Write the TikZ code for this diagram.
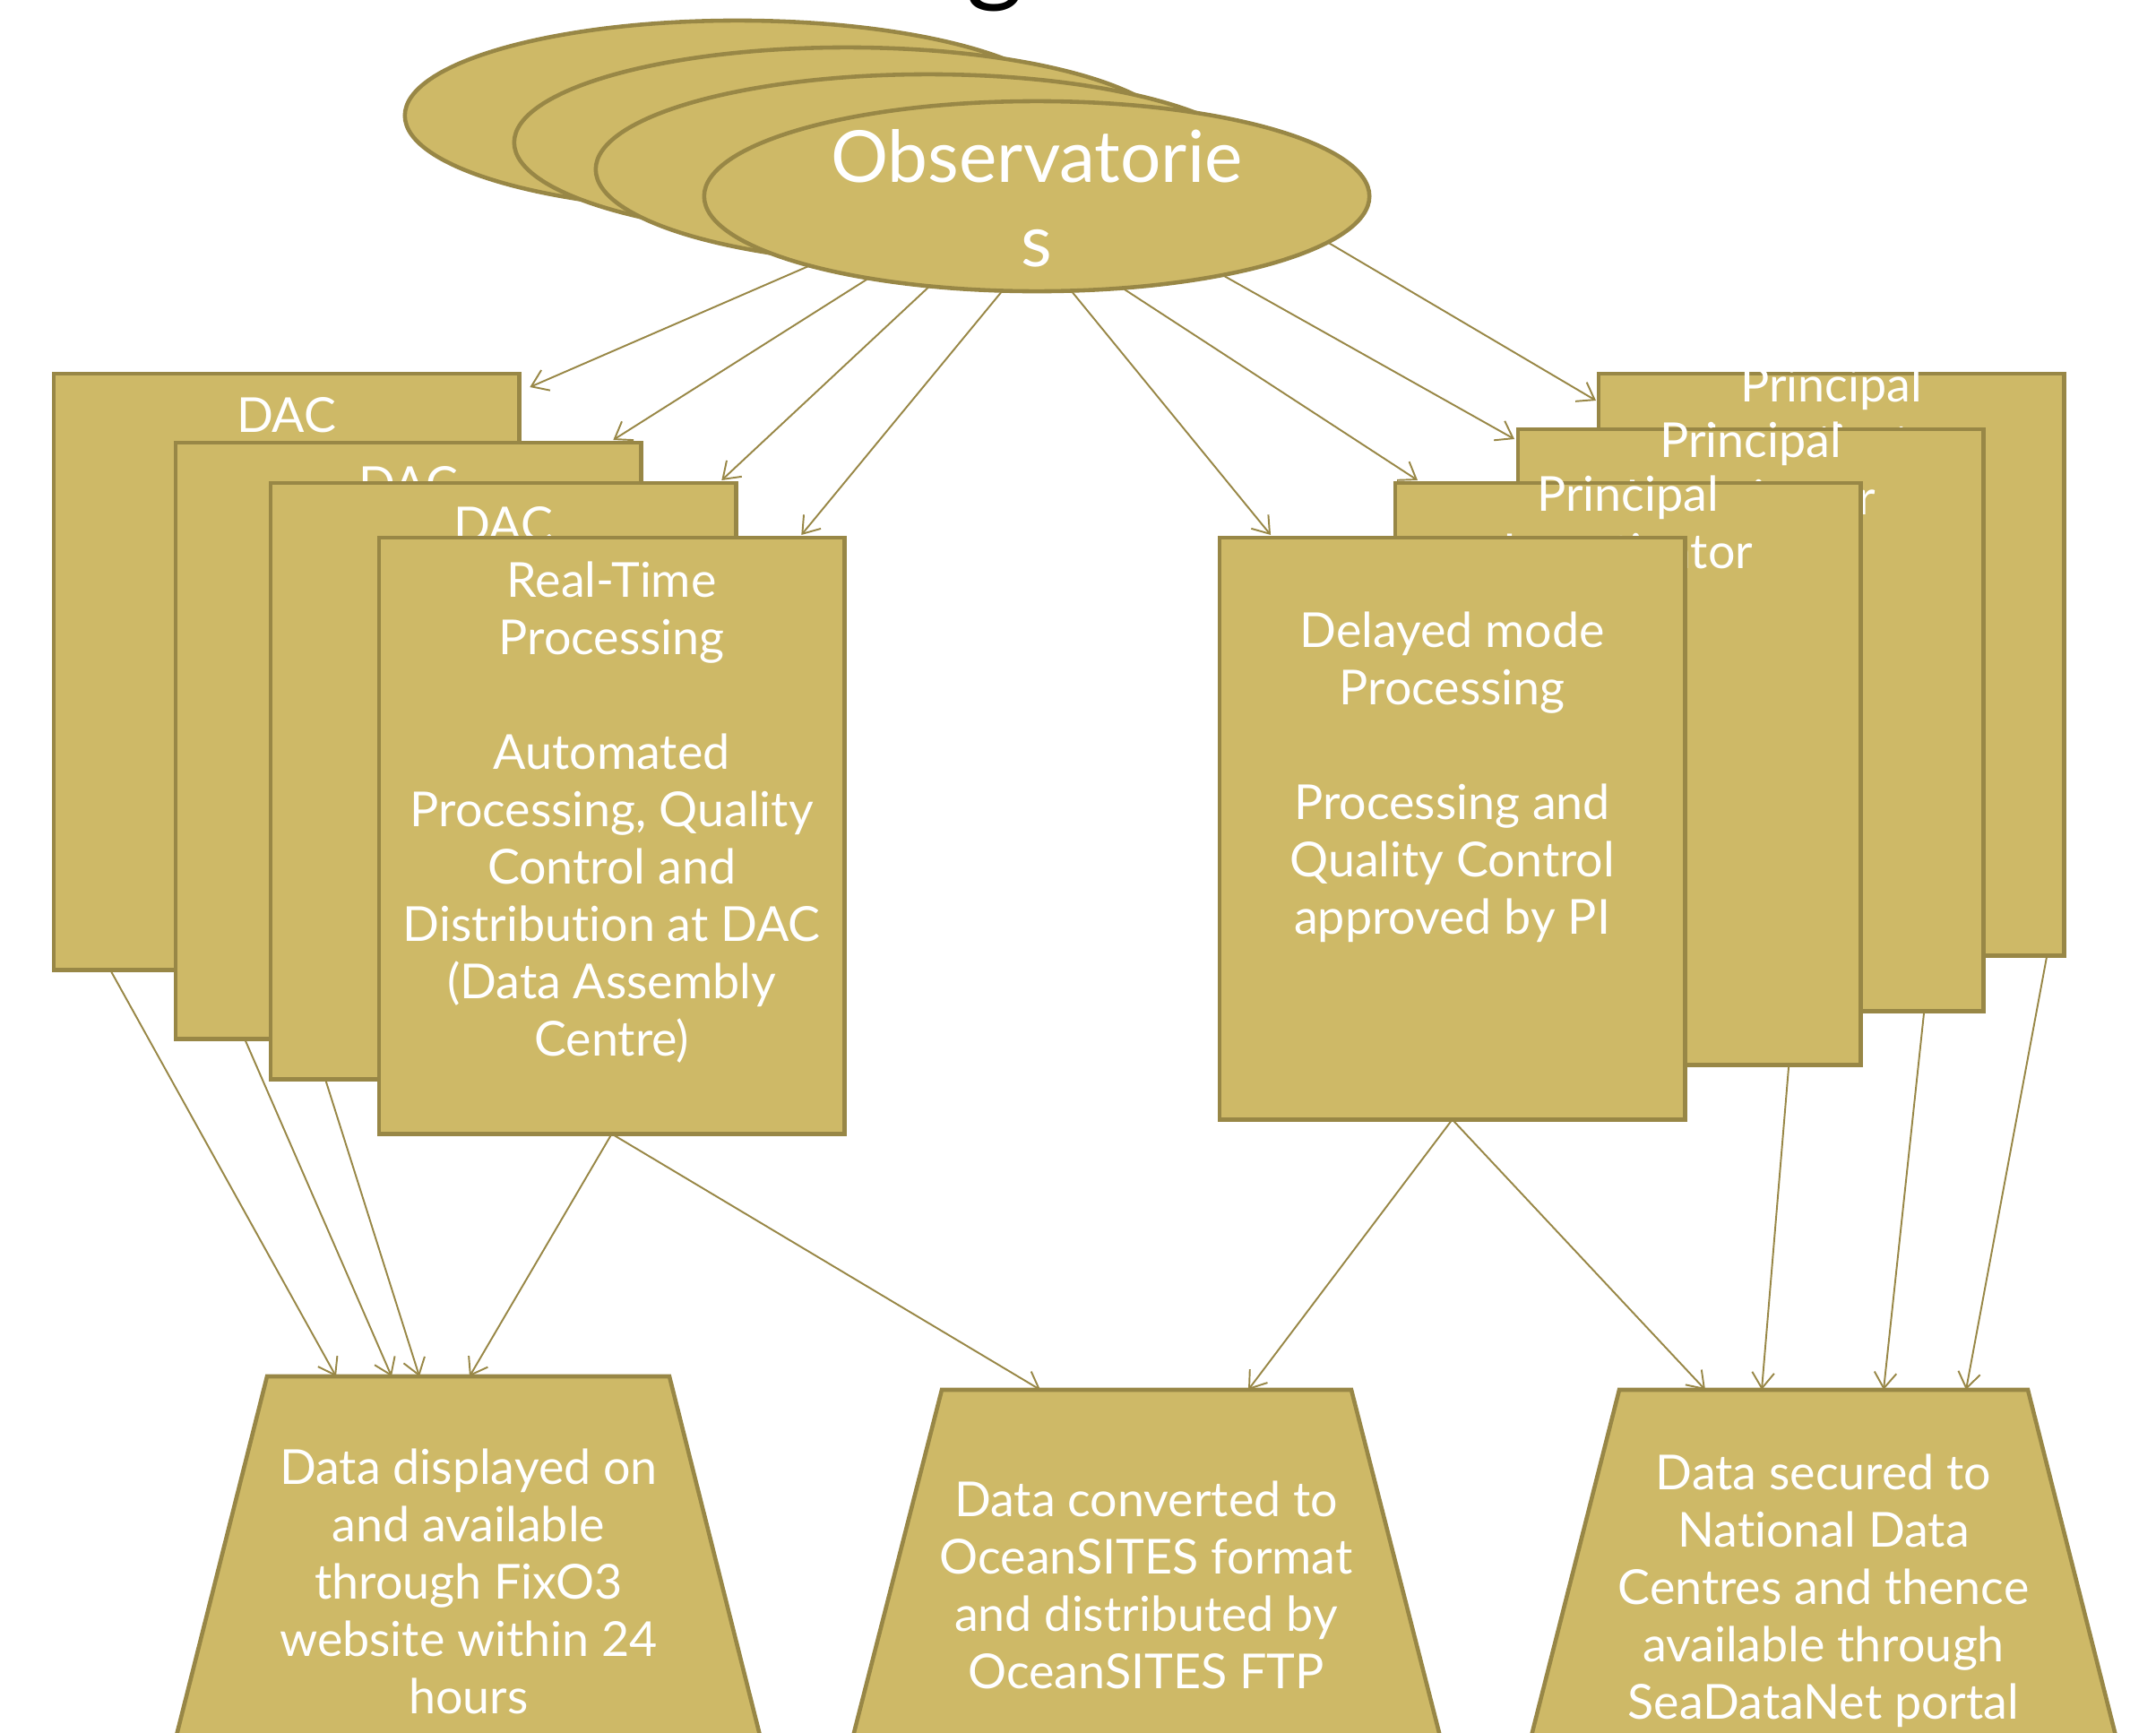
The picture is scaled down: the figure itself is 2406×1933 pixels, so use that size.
\documentclass[tikz,border=0pt]{standalone}
\usepackage{fontspec}
\setmainfont{Lato}[Ligatures={NoCommon}]
\usetikzlibrary{arrows.meta,shapes.geometric}
\definecolor{gfill}{RGB}{206,185,103}
\definecolor{gline}{RGB}{152,135,70}
\begin{document}
\begin{tikzpicture}[x=0.01cm,y=-0.01cm,
  box/.style={draw=gline, fill=gfill, line width=1.3pt, minimum width=5.19cm, inner sep=0pt, outer sep=0pt, anchor=north west},
  dacbox/.style={box, minimum height=6.65cm},
  pibox/.style={box, minimum height=6.49cm},
  obsell/.style={ellipse, draw=gline, fill=gfill, line width=1.3pt, minimum width=7.42cm, minimum height=2.12cm, inner sep=0pt, outer sep=0pt},
  txt/.style={text=white, font=\fontsize{15.3}{18.2}\selectfont, align=center, inner sep=0pt, anchor=north},
  arr/.style={draw=gline, line width=0.55pt, -{Straight Barb[length=5pt,width=7pt]}},
  trap/.style={draw=gline, fill=gfill, line width=1.3pt, line join=miter}
]
\useasboundingbox (0,0) rectangle (2406,1933);
\clip (0,0) rectangle (2406,1933);

% title fragment
\node[font=\fontsize{35}{35}\selectfont, text=black, anchor=base, inner sep=0pt] (title) at (1110,-10) {g};

% observatories
\node[obsell] (e1) at (823,129) {};
\node[obsell] (e2) at (945,159) {};
\node[obsell] (e3) at (1036,189) {};
\node[obsell] (obs) at (1157,219) {};
\node[txt, font=\fontsize{22.8}{26.7}\selectfont] (obstext) at (1157,144) {Observatorie\\s};

% DAC stack
\node[dacbox] (dac1) at (60,417) {};
\node[txt] (dac1t) at ([yshift=-0.26cm]dac1.north) {DAC};
\node[dacbox] (dac2) at (196,494) {};
\node[txt] (dac2t) at ([yshift=-0.26cm]dac2.north) {DAC};
\node[dacbox] (dac3) at (302,539) {};
\node[txt] (dac3t) at ([yshift=-0.26cm]dac3.north) {DAC};
\node[dacbox] (rt) at (423,600) {};
\node[txt] (rtt) at ([yshift=-0.26cm]rt.north) {Real-Time\\Processing\\\mbox{}\\Automated\\Processing, Quality\\Control and\\Distribution at DAC\\(Data Assembly\\Centre)};

% PI stack
\node[pibox] (pi1) at (1784,417) {};
\node[txt] (pi1t) at ([yshift=0.09cm]pi1.north) {Principal\\Investigator};
\node[pibox] (pi2) at (1694,479) {};
\node[txt] (pi2t) at ([yshift=0.09cm]pi2.north) {Principal\\Investigator};
\node[pibox] (pi3) at (1557,539) {};
\node[txt] (pi3t) at ([yshift=0.09cm]pi3.north) {Principal\\Investigator};
\node[pibox] (dm) at (1361,600) {};
\node[txt] (dmt) at ([yshift=-0.82cm]dm.north) {Delayed mode\\Processing\\\mbox{}\\Processing and\\Quality Control\\approved by PI};

% output trapezoids
\path[trap] (298,1536) -- (747,1536) -- (864,2000) -- (181,2000) -- cycle;
\path[trap] (1051,1551) -- (1508,1551) -- (1623,2000) -- (936,2000) -- cycle;
\path[trap] (1807,1551) -- (2263,1551) -- (2377,2000) -- (1693,2000) -- cycle;
\node[txt] (t1) at (523,1616) {Data displayed on\\and available\\through FixO3\\website within 24\\hours};
\node[txt] (t2) at (1279,1652) {Data converted to\\OceanSITES format\\and distributed by\\OceanSITES FTP};
\node[txt] (t3) at (2035,1622) {Data secured to\\National Data\\Centres and thence\\available through\\SeaDataNet portal};

\coordinate (t1a) at (375,1536);
\coordinate (t1b) at (437,1536);
\coordinate (t1c) at (468,1536);
\coordinate (t1d) at (524,1536);
\coordinate (t2a) at (1161,1551);
\coordinate (t2b) at (1393,1551);
\coordinate (t3a) at (1903,1551);
\coordinate (t3b) at (1966,1551);
\coordinate (t3c) at (2102,1551);
\coordinate (t3d) at (2194,1551);

% arrows from observatories
\draw[arr] (obs.197) -- ([xshift=0.12cm,yshift=-0.15cm]dac1.north east);
\draw[arr] (obs.206) -- ([xshift=-0.31cm,yshift=0.03cm]dac2.north east);
\draw[arr] (obs.220) -- ([xshift=-0.16cm,yshift=0.03cm]dac3.north east);
\draw[arr] (obs.250) -- ([xshift=-0.48cm,yshift=0.03cm]rt.north east);
\draw[arr] (obs.290) -- ([xshift=0.57cm,yshift=0.03cm]dm.north west);
\draw[arr] (obs.313) -- ([xshift=0.25cm,yshift=0.03cm]pi3.north west);
\draw[arr] (obs.337) -- ([xshift=-0.04cm,yshift=-0.11cm]pi2.north west);
\draw[arr] (obs.351) -- ([xshift=-0.03cm,yshift=-0.30cm]pi1.north west);

% arrows to outputs
\draw[arr] ([xshift=0.63cm]dac1.south west) -- (t1a);
\draw[arr] ([xshift=0.77cm]dac2.south west) -- (t1b);
\draw[arr] ([xshift=0.61cm]dac3.south west) -- (t1c);
\draw[arr] (rt.south) -- (t1d);
\draw[arr] (rt.south) -- (t2a);
\draw[arr] (dm.south) -- (t2b);
\draw[arr] (dm.south) -- (t3a);
\draw[arr] ([xshift=-0.80cm]pi3.south east) -- (t3b);
\draw[arr] ([xshift=-0.66cm]pi2.south east) -- (t3c);
\draw[arr] ([xshift=-0.19cm]pi1.south east) -- (t3d);
\end{tikzpicture}
\end{document}
